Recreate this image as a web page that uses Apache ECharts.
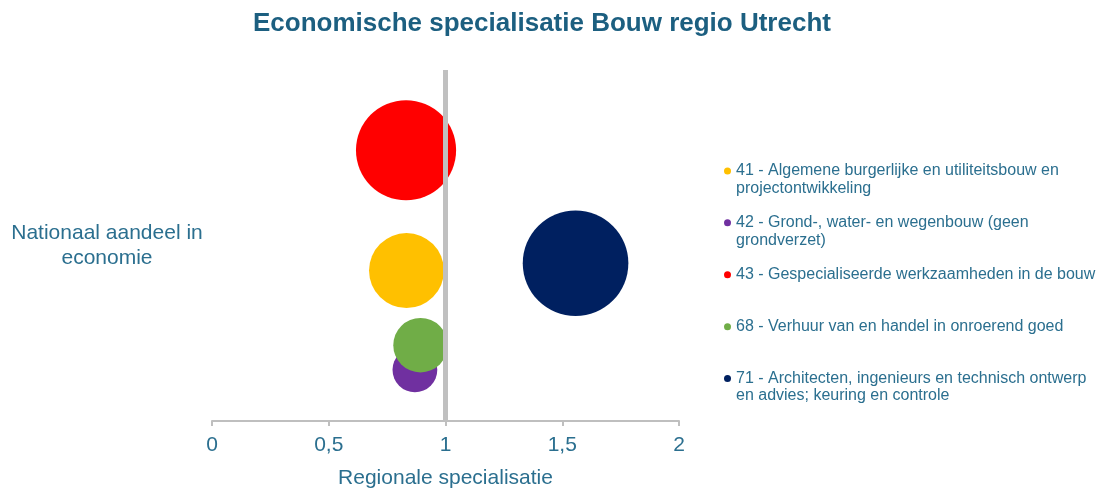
<!DOCTYPE html>
<html>
<head>
<meta charset="utf-8">
<script src="https://cdn.jsdelivr.net/npm/echarts@6/dist/echarts.min.js"></script>
<style>
  html, body { margin: 0; padding: 0; background: #fff; }
  #chart { width: 1098px; height: 494px; }
</style>
</head>
<body>
<div id="chart"></div>
<script>
// sectors (legend order)
const sectors = [
  "41 - Algemene burgerlijke en utiliteitsbouw en projectontwikkeling",
  "42 - Grond-, water- en wegenbouw (geen grondverzet)",
  "43 - Gespecialiseerde werkzaamheden in de bouw",
  "68 - Verhuur van en handel in onroerend goed",
  "71 - Architecten, ingenieurs en technisch ontwerp en advies; keuring en controle"
];
// legend text as wrapped in the reference
const legendText = [
  "41 - Algemene burgerlijke en utiliteitsbouw en\nprojectontwikkeling",
  "42 - Grond-, water- en wegenbouw (geen\ngrondverzet)",
  "43 - Gespecialiseerde werkzaamheden in de bouw\n ",
  "68 - Verhuur van en handel in onroerend goed\n ",
  "71 - Architecten, ingenieurs en technisch ontwerp\nen advies; keuring en controle"
];
const colors = ["#ffc000", "#7030a0", "#ff0000", "#70ad47", "#002060"];

// x: regionale specialisatie, y: nationaal aandeel (%), size: bubble value
const specialisatie = [0.833, 0.869, 0.831, 0.893, 1.557];
const nationaalAandeel = [1.50, 0.51, 2.70, 0.756, 1.573];
const bubbleSize = [7.0, 2.5, 12.5, 3.7, 13.9];

const xTicks = [0, 0.5, 1, 1.5, 2];

const textColor = "#2b6f8f";
const maxSize = Math.max(...bubbleSize);

const chart = echarts.init(document.getElementById("chart"), null, { renderer: "canvas" });

const series = sectors.map((name, i) => ({
  name: name,
  type: "scatter",
  data: [[specialisatie[i], nationaalAandeel[i], bubbleSize[i]]],
  symbolSize: (d) => 2 * 52.8 * Math.sqrt(d[2] / maxSize),
  itemStyle: { color: colors[i], opacity: 1 },
  emphasis: { disabled: true },
  z: 2
}));

// reference line at specialisatie = 1
series.push({
  name: "ref",
  type: "line",
  data: [[1, 0], [1, 3.5]],
  symbol: "none",
  lineStyle: { color: "#c0c0c0", width: 5 },
  silent: true,
  z: 3
});

chart.setOption({
  backgroundColor: "#ffffff",
  animation: false,
  title: {
    text: "Economische specialisatie Bouw regio Utrecht",
    left: 248,
    top: 6,
    textStyle: { color: "#1c5f80", fontSize: 26, fontWeight: "bold", fontFamily: "Liberation Sans" }
  },
  grid: { left: 212, right: 419, top: 70, bottom: 71 },
  legend: {
    orient: "vertical",
    left: 719,
    top: 140,
    itemWidth: 7,
    itemHeight: 7,
    itemGap: 0,
    icon: "circle",
    data: sectors,
    selectedMode: false,
    // leading blank line keeps the marker level with the first text line
    formatter: (name) => " \n" + legendText[sectors.indexOf(name)],
    textStyle: {
      color: textColor,
      fontSize: 16,
      fontFamily: "Liberation Sans",
      lineHeight: 17.3
    }
  },
  xAxis: {
    type: "value",
    min: xTicks[0],
    max: xTicks[xTicks.length - 1],
    interval: 0.5,
    name: "Regionale specialisatie",
    nameLocation: "middle",
    nameGap: 47,
    nameTextStyle: { color: textColor, fontSize: 21, fontFamily: "Liberation Sans" },
    axisLine: { lineStyle: { color: "#bfbfbf", width: 2 } },
    axisTick: { show: true, length: 5, lineStyle: { color: "#bfbfbf", width: 2 } },
    axisLabel: {
      color: textColor,
      fontSize: 21,
      fontFamily: "Liberation Sans",
      margin: 14,
      formatter: (v) => String(v).replace(".", ",")
    },
    splitLine: { show: false }
  },
  yAxis: {
    type: "value",
    min: 0,
    max: 3.5,
    name: "Nationaal aandeel in\neconomie",
    nameLocation: "middle",
    nameRotate: 0,
    nameGap: 105,
    nameTextStyle: {
      color: textColor,
      fontSize: 21,
      fontFamily: "Liberation Sans",
      align: "center",
      lineHeight: 25,
      padding: [4, 0, 0, 0]
    },
    axisLine: { show: false },
    axisTick: { show: false },
    axisLabel: { show: false },
    splitLine: { show: false }
  },
  series: series
});
</script>
</body>
</html>
